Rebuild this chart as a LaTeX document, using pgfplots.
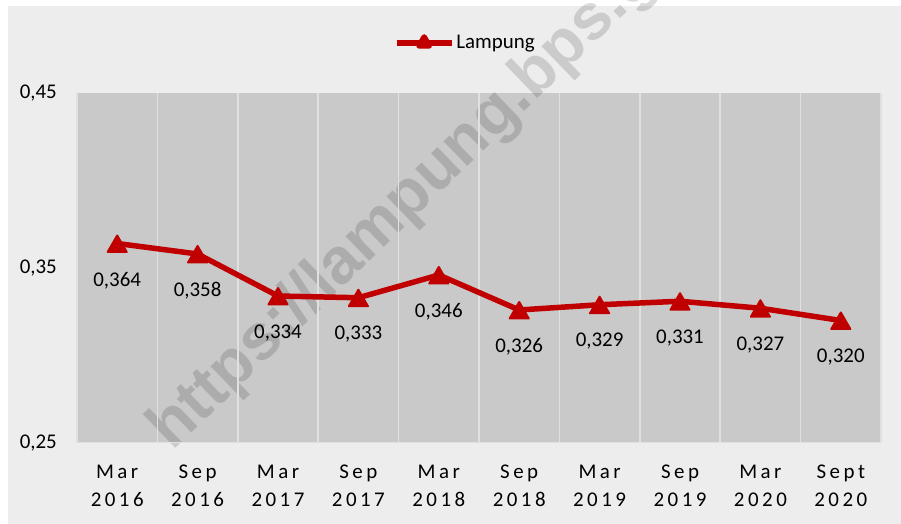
\documentclass[border=0pt]{standalone}
\usepackage{pgfplots}
\pgfplotsset{compat=1.18}
\usepackage{fontspec}
\setmainfont{Carlito}
\newfontfamily\wmfont{Liberation Sans}
\definecolor{outerbg}{HTML}{EDEDED}
\definecolor{plotbg}{HTML}{C9C9C9}
\definecolor{gridc}{HTML}{E0E0E0}
\definecolor{linered}{HTML}{C00000}
\begin{document}
\begin{tikzpicture}[x=1bp,y=1bp]
\useasboundingbox (0,0) rectangle (901,524);
\fill[white] (0,0) rectangle (901,524);
\fill[outerbg] (8,0) rectangle (901,518);
\fill[plotbg] (77,81) rectangle (881,431);
\begin{scope}
\clip (0,0) rectangle (901,524);
\node[anchor=base west, rotate=44, inner sep=0pt, text=black, text opacity=0.14,
  font=\wmfont\bfseries\fontsize{65}{65}\selectfont] at (172,72) {https://lampung.bps.go.id};
\end{scope}
\begin{axis}[
  at={(77bp,81bp)}, anchor=south west,
  scale only axis, width=804bp, height=350bp,
  xmin=-0.5, xmax=9.5, ymin=0.25, ymax=0.45,
  axis line style={draw=none},
  major tick length=0pt, minor tick length=0pt,
  xtick={0,...,9},
  xticklabels={{M\,a\,r\\2\,0\,1\,6},{S\,e\,p\\2\,0\,1\,6},{M\,a\,r\\2\,0\,1\,7},{S\,e\,p\\2\,0\,1\,7},{M\,a\,r\\2\,0\,1\,8},{S\,e\,p\\2\,0\,1\,8},{M\,a\,r\\2\,0\,1\,9},{S\,e\,p\\2\,0\,1\,9},{M\,a\,r\\2\,0\,2\,0},{S\,e\,p\,t\\2\,0\,2\,0}},
  xticklabel style={align=center, anchor=north, inner sep=0pt, yshift=-22bp, font=\fontsize{21}{28}\selectfont},
  minor xtick={-0.5,0.5,...,9.5},
  xminorgrids,
  minor grid style={gridc, line width=1.5bp},
  ytick={0.25,0.35,0.45},
  yticklabel style={anchor=east, inner sep=0pt, xshift=-20bp, font=\fontsize{21}{25}\selectfont,
    /pgf/number format/.cd, fixed, fixed zerofill, precision=2, use comma, assume math mode=true},
  nodes near coords={\pgfmathprintnumber[fixed,fixed zerofill,precision=3,use comma,assume math mode=true]{\pgfplotspointmeta}},
  every node near coord/.append style={anchor=north, yshift=-24.5bp, inner sep=0pt, text=black, font=\fontsize{21}{25}\selectfont},
  legend entries={Lampung},
  legend style={at={(0.483,1.143)}, anchor=center, draw=none, fill=none, font=\fontsize{21}{25}\selectfont, inner sep=0pt},
  legend image code/.code={
    \draw[#1, mark=none] (0bp,0bp) -- (55bp,0bp);
    \draw[#1, only marks, mark size=6bp, mark options={yshift=0bp}] plot coordinates {(27.5bp,0bp)};
  },
]
\draw[gridc, line width=1.5bp] (rel axis cs:0,0) -- (rel axis cs:1,0);
\addplot[linered, line width=5.5bp, line join=round, mark=triangle*, mark size=11bp,
  mark options={solid, fill=linered, line width=2bp, line join=round, yshift=-3bp}]
  coordinates {(0,0.364) (1,0.358) (2,0.334) (3,0.333) (4,0.346) (5,0.326) (6,0.329) (7,0.331) (8,0.327) (9,0.320)};
\end{axis}
\end{tikzpicture}
\end{document}
